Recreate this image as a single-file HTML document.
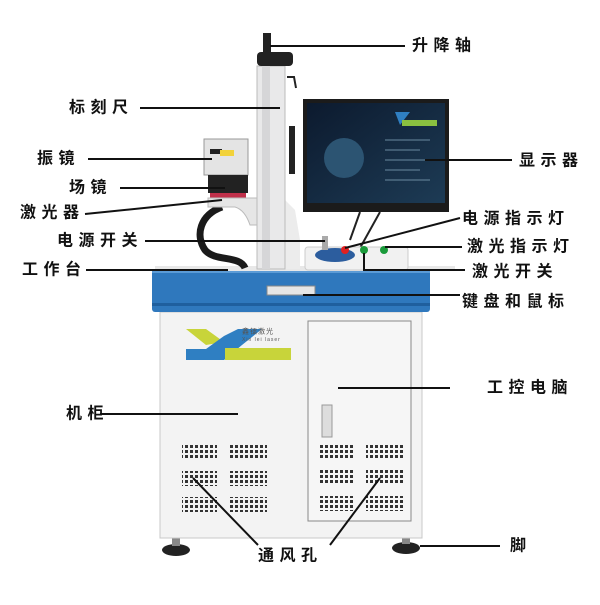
<!DOCTYPE html>
<html><head><meta charset="utf-8"><style>
html,body{margin:0;padding:0;background:#fff;}
svg text{font-family:"Liberation Sans","Noto Sans CJK SC",sans-serif;font-size:16px;font-weight:bold;fill:#111;letter-spacing:5.5px;dominant-baseline:central;}
</style></head><body>
<svg width="600" height="600" viewBox="0 0 600 600" xmlns="http://www.w3.org/2000/svg">
<defs>
<pattern id="vent" width="5" height="5" patternUnits="userSpaceOnUse"><rect width="3" height="3" fill="#333"/></pattern>
<linearGradient id="scr" x1="0" y1="0" x2="1" y2="1"><stop offset="0" stop-color="#0c1a2e"/><stop offset="1" stop-color="#1d3b55"/></linearGradient>
</defs>
<ellipse cx="176" cy="550" rx="14" ry="6" fill="#222"/><rect x="172" y="538" width="8" height="8" fill="#888"/>
<ellipse cx="406" cy="548" rx="14" ry="6" fill="#222"/><rect x="402" y="536" width="8" height="8" fill="#888"/>
<rect x="160" y="312" width="262" height="226" fill="#f3f3f3" stroke="#c8c8c8"/>
<rect x="308" y="321" width="103" height="200" fill="#f6f6f6" stroke="#888"/>
<rect x="322" y="405" width="10" height="32" fill="#ddd" stroke="#999"/>
<polygon points="186,329 206,329 224,342 206,345" fill="#c8d43a"/>
<polygon points="186,349 206,349 224,336 238,329 262,329 242,345 224,360 186,360" fill="#2f7fc2"/>
<rect x="225" y="348" width="66" height="12" fill="#c8d43a"/>
<text x="242" y="332" style="font-size:7px;font-weight:normal;letter-spacing:1px;fill:#555">鑫镭激光</text>
<text x="242" y="340" style="font-size:5px;font-weight:normal;letter-spacing:1px;fill:#555">Xin lei laser</text>
<g fill="url(#vent)">
<rect x="182" y="444" width="35" height="15"/><rect x="230" y="444" width="37" height="15"/>
<rect x="182" y="471" width="35" height="15"/><rect x="230" y="471" width="37" height="15"/>
<rect x="182" y="497" width="35" height="15"/><rect x="230" y="497" width="37" height="15"/>
<rect x="318" y="443" width="37" height="15"/><rect x="366" y="443" width="37" height="15"/>
<rect x="318" y="470" width="37" height="15"/><rect x="366" y="470" width="37" height="15"/>
<rect x="318" y="496" width="37" height="15"/><rect x="366" y="496" width="37" height="15"/>
</g>
<rect x="152" y="269" width="278" height="43" rx="3" fill="#2f78bd"/>
<rect x="152" y="269" width="278" height="4" fill="#5b9bd6"/>
<rect x="152" y="303" width="278" height="3" fill="#1f5f9e"/>
<rect x="267" y="286" width="48" height="9" fill="#e6e6e6" stroke="#888"/>
<rect x="155" y="266" width="300" height="5" fill="#e8e8e8"/>
<path d="M222,207 C200,215 195,235 205,250 C215,262 240,255 245,268" fill="none" stroke="#1a1a1a" stroke-width="7"/>
<path d="M285,200 L295,210 L300,240 L300,269 L285,269Z" fill="#ececec"/>
<rect x="257" y="66" width="28" height="203" fill="#e9e9ea" stroke="#bbb"/>
<rect x="262" y="66" width="8" height="203" fill="#d6d6d8"/>
<rect x="257" y="52" width="36" height="14" rx="4" fill="#222"/>
<rect x="263" y="33" width="8" height="20" fill="#222"/>
<path d="M287,77 L294,77 L296,88" fill="none" stroke="#222" stroke-width="2"/>
<rect x="289" y="126" width="6" height="48" fill="#222"/>
<rect x="204" y="139" width="44" height="36" fill="#e4e4e4" stroke="#999"/>
<rect x="210" y="149" width="12" height="5" fill="#222"/>
<rect x="220" y="150" width="14" height="6" fill="#f2d23a"/>
<rect x="208" y="175" width="40" height="18" fill="#222"/>
<rect x="210" y="193" width="36" height="5" fill="#c0304a"/>
<path d="M208,198 L257,198 L257,225 L250,225 Q245,210 235,207 L208,207Z" fill="#e6e6e6" stroke="#bbb"/>
<path d="M360,212 L350,240 M380,212 L360,248" stroke="#222" stroke-width="2" fill="none"/>
<rect x="303" y="99" width="146" height="113" fill="#1b1b1b"/>
<rect x="307" y="103" width="138" height="100" fill="url(#scr)"/>
<circle cx="344" cy="158" r="20" fill="#2c5472"/>
<polygon points="395,112 410,112 400,125" fill="#2f7fc2"/><rect x="402" y="120" width="35" height="6" fill="#8ac040"/>
<g stroke="#6a8aa0" stroke-width="1"><line x1="385" y1="140" x2="430" y2="140"/><line x1="385" y1="150" x2="420" y2="150"/><line x1="385" y1="160" x2="425" y2="160"/><line x1="385" y1="170" x2="420" y2="170"/><line x1="385" y1="180" x2="430" y2="180"/></g>
<rect x="305" y="247" width="103" height="23" rx="3" fill="#f1f1f1" stroke="#ccc"/>
<ellipse cx="335" cy="255" rx="20" ry="7" fill="#2c5d9e"/>
<circle cx="345" cy="250" r="4" fill="#e02020"/>
<circle cx="364" cy="250" r="4" fill="#1a9a3a"/>
<circle cx="384" cy="250" r="4" fill="#1a9a3a"/>
<rect x="322" y="236" width="6" height="14" fill="#aaa"/>
<g stroke="#111" stroke-width="2" fill="none">
<line x1="270" y1="46" x2="405" y2="46"/>
<line x1="140" y1="108" x2="280" y2="108"/>
<line x1="88" y1="159" x2="212" y2="159"/>
<line x1="120" y1="188" x2="225" y2="188"/>
<line x1="85" y1="214" x2="222" y2="200"/>
<line x1="145" y1="241" x2="325" y2="241"/>
<line x1="86" y1="270" x2="228" y2="270"/>
<line x1="425" y1="160" x2="512" y2="160"/>
<line x1="345" y1="248" x2="460" y2="218"/>
<line x1="385" y1="247" x2="462" y2="247"/>
<polyline points="364,253 364,270 465,270"/>
<line x1="303" y1="295" x2="460" y2="295"/>
<line x1="338" y1="388" x2="450" y2="388"/>
<line x1="100" y1="414" x2="238" y2="414"/>
<line x1="193" y1="478" x2="258" y2="545"/>
<line x1="380" y1="478" x2="330" y2="545"/>
<line x1="420" y1="546" x2="500" y2="546"/>
</g>
<text x="412" y="46">升降轴</text>
<text x="69" y="108">标刻尺</text>
<text x="37" y="159">振镜</text>
<text x="69" y="188">场镜</text>
<text x="20" y="213">激光器</text>
<text x="57" y="241">电源开关</text>
<text x="22" y="270">工作台</text>
<text x="519" y="161">显示器</text>
<text x="462" y="219">电源指示灯</text>
<text x="467" y="247">激光指示灯</text>
<text x="472" y="272">激光开关</text>
<text x="462" y="302">键盘和鼠标</text>
<text x="487" y="388">工控电脑</text>
<text x="66" y="414">机柜</text>
<text x="258" y="556">通风孔</text>
<text x="510" y="546">脚</text>
</svg>
</body></html>
